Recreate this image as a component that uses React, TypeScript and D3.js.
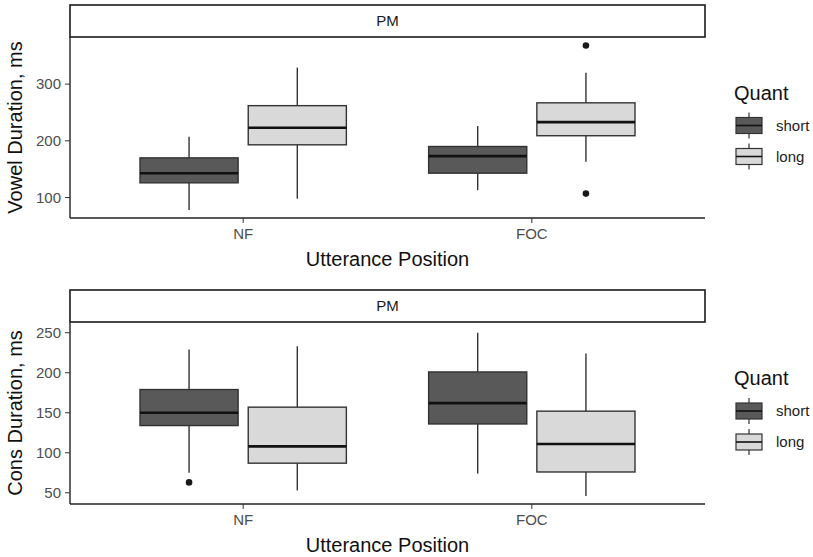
import * as d3 from 'd3';

const positions = ['NF', 'FOC'];
const quants = ['short', 'long'];
const quantFill: Record<string, string> = { short: '#595959', long: '#d9d9d9' };

interface BoxStat {
  pos: string;
  quant: string;
  lower: number;
  q1: number;
  median: number;
  q3: number;
  upper: number;
  outliers: number[];
}

const vowelStats: BoxStat[] = [
  { pos: 'NF', quant: 'short', lower: 78, q1: 126, median: 143, q3: 170, upper: 207, outliers: [] },
  { pos: 'NF', quant: 'long', lower: 98, q1: 193, median: 223, q3: 262, upper: 329, outliers: [] },
  { pos: 'FOC', quant: 'short', lower: 113, q1: 143, median: 173, q3: 190, upper: 226, outliers: [] },
  { pos: 'FOC', quant: 'long', lower: 163, q1: 209, median: 233, q3: 267, upper: 320, outliers: [368, 107] },
];

const consStats: BoxStat[] = [
  { pos: 'NF', quant: 'short', lower: 75, q1: 134, median: 150, q3: 179, upper: 229, outliers: [63] },
  { pos: 'NF', quant: 'long', lower: 53, q1: 87, median: 108, q3: 157, upper: 233, outliers: [] },
  { pos: 'FOC', quant: 'short', lower: 74, q1: 136, median: 162, q3: 201, upper: 250, outliers: [] },
  { pos: 'FOC', quant: 'long', lower: 46, q1: 76, median: 111, q3: 152, upper: 224, outliers: [] },
];

const vowelTicks = [100, 200, 300];
const consTicks = [50, 100, 150, 200, 250];

const FONT = 'Liberation Sans, Arial, sans-serif';
const LEFT = 70;
const RIGHT = 705;

// ggplot discrete scale: categories at 0.6 and 1.6 units inside a 2.2 unit span
const unit = (RIGHT - LEFT) / 2.2;
const xPos = d3.scalePoint<string>().domain(positions).range([LEFT + 0.6 * unit, LEFT + 1.6 * unit]);
const dodge = d3.scalePoint<string>().domain(quants).range([-0.1875 * unit, 0.1875 * unit]);
const boxW = 0.34 * unit;

interface PanelProps {
  stats: BoxStat[];
  ticks: number[];
  domain: [number, number];
  stripTop: number;
  stripBottom: number;
  panelBottom: number;
  yTitle: string;
}

function Panel({ stats, ticks, domain, stripTop, stripBottom, panelBottom, yTitle }: PanelProps) {
  const y = d3.scaleLinear().domain(domain).range([panelBottom, stripBottom]);
  const midY = (stripBottom + panelBottom) / 2;
  return (
    <g>
      <rect x={LEFT} y={stripTop} width={RIGHT - LEFT} height={stripBottom - stripTop} fill="white" stroke="#1a1a1a" strokeWidth={1.6} />
      <text x={(LEFT + RIGHT) / 2} y={(stripTop + stripBottom) / 2} dy="0.35em" textAnchor="middle" fontSize={15} fill="#1a1a1a">PM</text>

      {stats.map((s, i) => {
        const cx = (xPos(s.pos) ?? 0) + (dodge(s.quant) ?? 0);
        return (
          <g key={i}>
            <line x1={cx} x2={cx} y1={y(s.upper)} y2={y(s.q3)} stroke="#333" strokeWidth={1.4} />
            <line x1={cx} x2={cx} y1={y(s.q1)} y2={y(s.lower)} stroke="#333" strokeWidth={1.4} />
            <rect x={cx - boxW / 2} y={y(s.q3)} width={boxW} height={y(s.q1) - y(s.q3)} fill={quantFill[s.quant]} stroke="#333" strokeWidth={1.4} />
            <line x1={cx - boxW / 2} x2={cx + boxW / 2} y1={y(s.median)} y2={y(s.median)} stroke="#111" strokeWidth={2.6} />
            {s.outliers.map((o, j) => (
              <circle key={j} cx={cx} cy={y(o)} r={3.3} fill="#1a1a1a" />
            ))}
          </g>
        );
      })}

      <line x1={LEFT} x2={LEFT} y1={stripBottom} y2={panelBottom} stroke="#222" strokeWidth={1.4} />
      <line x1={LEFT} x2={RIGHT} y1={panelBottom} y2={panelBottom} stroke="#222" strokeWidth={1.4} />
      {ticks.map((t) => (
        <g key={t}>
          <line x1={LEFT - 5} x2={LEFT} y1={y(t)} y2={y(t)} stroke="#333" strokeWidth={1} />
          <text x={LEFT - 9} y={y(t)} dy="0.35em" textAnchor="end" fontSize={15} fill="#4d4d4d">{t}</text>
        </g>
      ))}
      {positions.map((p) => (
        <g key={p}>
          <line x1={xPos(p)} x2={xPos(p)} y1={panelBottom} y2={panelBottom + 5} stroke="#333" strokeWidth={1} />
          <text x={xPos(p)} y={panelBottom + 16} dy="0.35em" textAnchor="middle" fontSize={15} fill="#4d4d4d">{p}</text>
        </g>
      ))}
      <text x={(LEFT + RIGHT) / 2} y={panelBottom + 41} dy="0.35em" textAnchor="middle" fontSize={20} fill="#111">Utterance Position</text>
      <text transform={`translate(15,${midY}) rotate(-90)`} dy="0.35em" textAnchor="middle" fontSize={20} fill="#111">{yTitle}</text>

      <Legend top={midY - 35} />
    </g>
  );
}

function Legend({ top }: { top: number }) {
  const kx = 736;
  const kw = 26;
  const step = 31;
  return (
    <g>
      <text x={kx - 2} y={top} dy="0.35em" fontSize={20} fill="#111">Quant</text>
      {quants.map((q, i) => {
        const cy = top + 33 + i * step;
        return (
          <g key={q}>
            <line x1={kx + kw / 2} x2={kx + kw / 2} y1={cy - 13} y2={cy + 13} stroke="#333" strokeWidth={1.2} />
            <rect x={kx} y={cy - 8} width={kw} height={16} fill={quantFill[q]} stroke="#333" strokeWidth={1.2} />
            <line x1={kx} x2={kx + kw} y1={cy} y2={cy} stroke="#111" strokeWidth={1.6} />
            <text x={kx + 40} y={cy} dy="0.35em" fontSize={15} fill="#222">{q}</text>
          </g>
        );
      })}
    </g>
  );
}

export default function App() {
  return (
    <svg width={813} height={557} style={{ position: 'absolute', left: 0, top: 0, background: 'white' }} fontFamily={FONT}>
      <rect width={813} height={557} fill="white" />
      <Panel stats={vowelStats} ticks={vowelTicks} domain={[64, 383]} stripTop={5} stripBottom={37} panelBottom={218} yTitle="Vowel Duration, ms" />
      <Panel stats={consStats} ticks={consTicks} domain={[36, 263.4]} stripTop={290} stripBottom={322} panelBottom={504} yTitle="Cons Duration, ms" />
    </svg>
  );
}
